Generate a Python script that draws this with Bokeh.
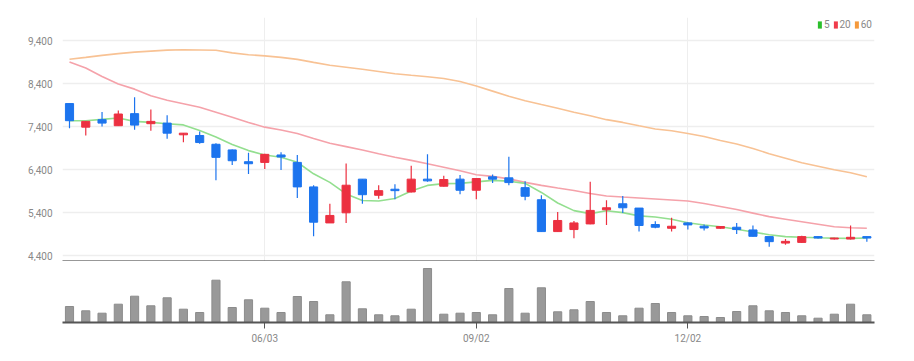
from bokeh.plotting import figure
from bokeh.layouts import column
from bokeh.models import Range1d, FixedTicker, NumeralTickFormatter, Legend, LegendItem
from bokeh.embed import file_html
from bokeh.resources import INLINE

# ---- data (weekly candles, 50 weeks) ----
opens = [7936, 7388, 7562, 7421, 7702, 7468, 7482, 7210, 7194, 6990,
         6859, 6585, 6569, 6742, 6569, 6000, 5163, 5398, 6180, 5805,
         5946, 5882, 6180, 6016, 6180, 5922, 6234, 6210, 5983, 5702,
         4962, 5009, 5140, 5468, 5608, 5508, 5126, 5039, 5163, 5086,
         5039, 5063, 5000, 4845, 4695, 4711, 4845, 4789, 4789, 4845]
highs = [7940, 7530, 7740, 7772, 8084, 7796, 7662, 7250, 7288, 7014,
         6870, 6796, 6770, 6803, 6742, 6039, 5608, 6545, 6180, 6039,
         6063, 6491, 6756, 6257, 6274, 6200, 6288, 6702, 6133, 5805,
         5414, 5210, 6117, 5688, 5789, 5510, 5203, 5281, 5180, 5126,
         5090, 5163, 5103, 4850, 4789, 4868, 4855, 4820, 5103, 4850]
lows = [7365, 7194, 7405, 7420, 7328, 7304, 7117, 7037, 7000, 6157,
        6508, 6297, 6414, 6391, 5742, 4852, 5160, 5163, 5608, 5726,
        5712, 5870, 6117, 6010, 5829, 5712, 6093, 6039, 5688, 4960,
        4960, 4805, 5130, 5117, 5391, 4962, 5039, 4962, 5009, 4985,
        5030, 4906, 4850, 4611, 4658, 4695, 4800, 4780, 4780, 4728]
closes = [7538, 7522, 7482, 7693, 7435, 7522, 7248, 7248, 7030, 6686,
          6608, 6538, 6756, 6695, 6000, 5180, 5337, 6039, 5819, 5913,
          5913, 6180, 6140, 6171, 5922, 6194, 6180, 6100, 5782, 4962,
          5220, 5163, 5454, 5515, 5515, 5103, 5063, 5086, 5117, 5046,
          5079, 5009, 4852, 4728, 4735, 4845, 4812, 4812, 4829, 4812]
volumes = [80000, 58500, 46500, 91500, 131500, 83500, 123500, 66500, 50000, 211500,
           75000, 113500, 71500, 50000, 130000, 105000, 38500, 203500, 68500, 38500,
           33500, 66500, 270000, 41500, 46500, 50000, 38500, 170000, 46500, 173500,
           53500, 63500, 105000, 50000, 33500, 71500, 95000, 50000, 33500, 30000,
           25000, 55000, 83500, 58500, 50000, 33500, 21500, 41500, 91500, 38500]
ma5 = [7538, 7538, 7569, 7599, 7522, 7498, 7468, 7440, 7311, 7159,
       6983, 6843, 6742, 6690, 6573, 6304, 6105, 5836, 5683, 5672,
       5730, 5906, 6035, 6077, 6082, 6117, 6152, 6133, 6082, 5871,
       5625, 5449, 5379, 5445, 5402, 5327, 5302, 5250, 5168, 5114,
       5074, 5016, 4953, 4887, 4845, 4829, 4817, 4810, 4805, 4812]
ma20 = [8904, 8763, 8564, 8388, 8271, 8119, 8014, 7932, 7850, 7733,
        7616, 7498, 7388, 7323, 7241, 7124, 7014, 6936, 6859, 6772,
        6690, 6616, 6538, 6456, 6374, 6281, 6245, 6187, 6105, 6035,
        5976, 5918, 5847, 5789, 5765, 5742, 5719, 5695, 5672, 5613,
        5543, 5473, 5391, 5309, 5250, 5192, 5133, 5074, 5051, 5039]
ma60 = [8967, 9009, 9056, 9096, 9131, 9154, 9178, 9185, 9180, 9173,
        9114, 9068, 9044, 9009, 8962, 8892, 8826, 8780, 8733, 8681,
        8630, 8592, 8559, 8517, 8447, 8342, 8225, 8107, 8002, 7913,
        7826, 7733, 7651, 7562, 7498, 7421, 7346, 7304, 7241, 7171,
        7077, 6995, 6890, 6772, 6667, 6562, 6480, 6398, 6327, 6234]
tick_idx = [12, 25, 38]
tick_labels = ["06/03", "09/02", "12/02"]
price_ticks = [4400, 5400, 6400, 7400, 8400, 9400]
legend_labels = ["5", "20", "60"]

# ---- styles ----
RED = "#ec3040"
BLUE = "#1c74ee"
FONT = "Roboto"
idx = list(range(len(opens)))
colors = [RED if c >= o else BLUE for o, c in zip(opens, closes)]
tops = [max(o, c) for o, c in zip(opens, closes)]
bottoms = [min(o, c) for o, c in zip(opens, closes)]

xr = Range1d(-0.43, 49.47)

p1 = figure(width=906, height=261, x_range=xr, y_range=Range1d(4267, 9935),
            output_backend="svg", toolbar_location=None,
            min_border_left=62, min_border_right=32, min_border_top=17, min_border_bottom=0)
p1.outline_line_color = None
p1.yaxis.ticker = FixedTicker(ticks=price_ticks)
p1.yaxis.formatter = NumeralTickFormatter(format="0,0")
p1.yaxis.axis_line_color = None
p1.yaxis.major_tick_line_color = None
p1.yaxis.minor_tick_line_color = None
p1.yaxis.major_label_text_font_size = "10px"
p1.yaxis.major_label_text_color = "#888888"
p1.yaxis.major_label_text_font = FONT
p1.yaxis.major_label_standoff = 4
p1.xaxis.ticker = FixedTicker(ticks=[])
p1.xaxis.axis_line_color = "#333333"
p1.xaxis.axis_line_width = 2
p1.xaxis.major_tick_line_color = None
p1.xaxis.minor_tick_line_color = None
p1.xaxis.major_label_text_font_size = "0px"
p1.xaxis.major_label_standoff = 0
p1.xgrid.ticker = FixedTicker(ticks=tick_idx)
p1.xgrid.grid_line_color = "#eeeeee"
p1.ygrid.grid_line_color = "#eeeeee"
p1.ygrid.grid_line_width = 1.5

p1.line(idx, ma60, line_color="#f8c294", line_width=1.6)
p1.line(idx, ma20, line_color="#f5a2aa", line_width=1.6)
p1.line(idx, ma5, line_color="#93df8f", line_width=1.6)

p1.segment(x0=idx, y0=lows, x1=idx, y1=highs, line_color=colors, line_width=1.2)
p1.vbar(x=idx, width=0.5, top=tops, bottom=bottoms, fill_color=colors, line_color=colors, line_width=1)

# legend proxies: zero-size bars anchored on each series' first point
leg_colors = ["#2cbf2c", "#f03c4b", "#f59a3c"]
items = []
for lab, col, ser in zip(legend_labels, leg_colors, [ma5, ma20, ma60]):
    r = p1.vbar(x=idx[:1], top=ser[:1], bottom=ser[:1], width=0,
                fill_color=col, line_color=col, line_alpha=0)
    items.append(LegendItem(label=lab, renderers=[r]))
legend = Legend(items=items, orientation="horizontal", location="top_right",
                glyph_width=5, glyph_height=9, label_text_font_size="10px",
                label_text_color="#888888", label_text_font=FONT,
                spacing=3, padding=0, margin=2, label_standoff=2,
                label_width=4, label_height=9,
                border_line_color=None, background_fill_alpha=0)
p1.add_layout(legend)

p2 = figure(width=906, height=85, x_range=xr, y_range=Range1d(0, max(volumes) * 60 / 54),
            output_backend="svg", toolbar_location=None,
            min_border_left=62, min_border_right=32, min_border_top=1, min_border_bottom=0)
p2.outline_line_color = None
p2.yaxis.visible = False
p2.grid.visible = False
p2.xaxis.ticker = FixedTicker(ticks=tick_idx)
p2.xaxis.major_label_overrides = {k: v for k, v in zip(tick_idx, tick_labels)}
p2.xaxis.axis_line_color = "#555555"
p2.xaxis.axis_line_width = 2
p2.xaxis.major_tick_out = 6
p2.xaxis.major_tick_in = 0
p2.xaxis.major_tick_line_color = "#555555"
p2.xaxis.minor_tick_line_color = None
p2.xaxis.major_label_text_font_size = "10px"
p2.xaxis.major_label_text_color = "#888888"
p2.xaxis.major_label_text_font = FONT
p2.xaxis.major_label_standoff = 4
p2.vbar(x=idx, width=0.5, top=volumes, bottom=0, fill_color="#999999", line_color="#8c8c8c")

layout = column(p1, p2, spacing=0)
open("out.html", "w").write(file_html(layout, INLINE))
